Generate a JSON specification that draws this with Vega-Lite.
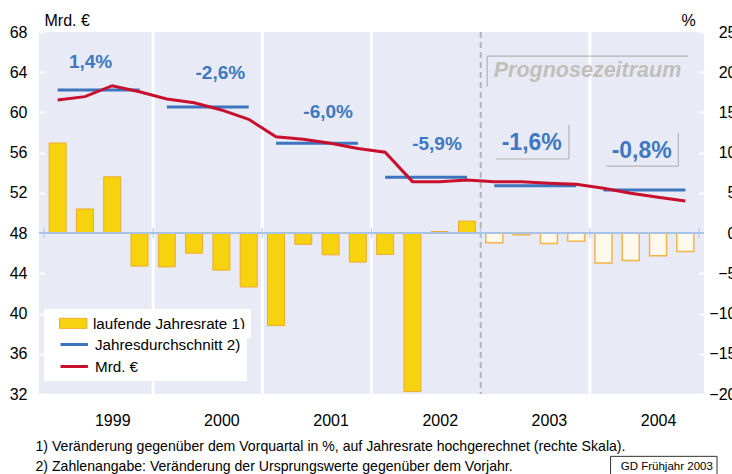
{
  "$schema": "https://vega.github.io/schema/vega-lite/v6.json",
  "width": 665,
  "height": 362,
  "autosize": {"type": "none"},
  "padding": {"left": 39, "top": 32, "right": 28, "bottom": 80},
  "background": "white",
  "config": {
    "font": "Liberation Sans",
    "view": {"fill": "#e8ebf5", "stroke": null},
    "axis": {"grid": false, "domain": false, "labelFont": "Liberation Sans", "titleFont": "Liberation Sans", "labelColor": "#000000", "titleColor": "#000000", "titleFontWeight": "normal"},
    "legend": {"labelFont": "Liberation Sans", "labelColor": "#000000", "labelFontSize": 15.2}
  },
  "datasets": {
    "quarters": [
      {"t": 1999.125, "rate": 11.2, "mrd": 61.24, "prog": false},
      {"t": 1999.375, "rate": 3.0, "mrd": 61.57, "prog": false},
      {"t": 1999.625, "rate": 7.0, "mrd": 62.66, "prog": false},
      {"t": 1999.875, "rate": -4.1, "mrd": 62.05, "prog": false},
      {"t": 2000.125, "rate": -4.2, "mrd": 61.34, "prog": false},
      {"t": 2000.375, "rate": -2.5, "mrd": 60.97, "prog": false},
      {"t": 2000.625, "rate": -4.6, "mrd": 60.25, "prog": false},
      {"t": 2000.875, "rate": -6.7, "mrd": 59.32, "prog": false},
      {"t": 2001.125, "rate": -11.5, "mrd": 57.58, "prog": false},
      {"t": 2001.375, "rate": -1.4, "mrd": 57.33, "prog": false},
      {"t": 2001.625, "rate": -2.7, "mrd": 56.94, "prog": false},
      {"t": 2001.875, "rate": -3.6, "mrd": 56.42, "prog": false},
      {"t": 2002.125, "rate": -2.65, "mrd": 56.04, "prog": false},
      {"t": 2002.375, "rate": -19.7, "mrd": 53.12, "prog": false},
      {"t": 2002.625, "rate": 0.2, "mrd": 53.12, "prog": false},
      {"t": 2002.875, "rate": 1.5, "mrd": 53.28, "prog": false},
      {"t": 2003.125, "rate": -1.2, "mrd": 53.12, "prog": true},
      {"t": 2003.375, "rate": -0.2, "mrd": 53.1, "prog": true},
      {"t": 2003.625, "rate": -1.3, "mrd": 52.96, "prog": true},
      {"t": 2003.875, "rate": -1.0, "mrd": 52.86, "prog": true},
      {"t": 2004.125, "rate": -3.7, "mrd": 52.46, "prog": true},
      {"t": 2004.375, "rate": -3.4, "mrd": 51.96, "prog": true},
      {"t": 2004.625, "rate": -2.8, "mrd": 51.57, "prog": true},
      {"t": 2004.875, "rate": -2.3, "mrd": 51.2, "prog": true}
    ],
    "years": [
      {"year": 1999, "avg": 62.23, "first": 1999.125, "last": 1999.875},
      {"year": 2000, "avg": 60.54, "first": 2000.125, "last": 2000.875},
      {"year": 2001, "avg": 56.93, "first": 2001.125, "last": 2001.875},
      {"year": 2002, "avg": 53.56, "first": 2002.125, "last": 2002.875},
      {"year": 2003, "avg": 52.72, "first": 2003.125, "last": 2003.875},
      {"year": 2004, "avg": 52.29, "first": 2004.125, "last": 2004.875}
    ],
    "bounds": [
      {"b": 1999}, {"b": 2000}, {"b": 2001}, {"b": 2002}, {"b": 2003}, {"b": 2004}, {"b": 2005}
    ],
    "zero": [{"rate": 0}],
    "labels": [
      {"text": "1,4%", "at": 1999.427, "level": 64.39},
      {"text": "-2,6%", "at": 2000.615, "level": 63.33},
      {"text": "-6,0%", "at": 2001.603, "level": 59.42},
      {"text": "-5,9%", "at": 2002.6, "level": 56.27},
      {"text": "-1,6%", "at": 2003.468, "level": 56.27},
      {"text": "-0,8%", "at": 2004.475, "level": 55.5}
    ],
    "notes": [
      {"note": "Prognosezeitraum", "at": 2003.979, "level": 63.5}
    ],
    "stamp": [
      {"note": "GD Frühjahr 2003", "at": 2004.705, "level": 24.4, "left": 2004.19, "right": 2005.165, "top": 25.8, "bottom": 23.0}
    ],
    "frames": [
      {"a": 2003.809, "a2": 2003.809, "v": 58.75, "v2": 55.37},
      {"a": 2003.141, "a2": 2003.809, "v": 55.37, "v2": 55.37},
      {"a": 2004.811, "a2": 2004.811, "v": 57.99, "v2": 54.67},
      {"a": 2004.152, "a2": 2004.811, "v": 54.67, "v2": 54.67},
      {"a": 2003.06, "a2": 2004.9, "v": 65.61, "v2": 65.61},
      {"a": 2003.06, "a2": 2003.06, "v": 65.61, "v2": 62.56}
    ]
  },
  "layer": [
    {
      "layer": [
        {
          "data": {"name": "bounds"},
          "transform": [{"filter": "datum.b > 1999 && datum.b < 2005 && datum.b != 2003"}],
          "mark": {"type": "rule", "color": "white", "strokeWidth": 3},
          "encoding": {
            "x": {"field": "b", "type": "quantitative", "scale": {"domain": [1999, 2005], "nice": false, "zero": false},
              "axis": {"orient": "bottom", "values": [1999.625, 2000.625, 2001.625, 2002.625, 2003.625, 2004.625], "labelExpr": "'' + floor(datum.value)", "ticks": false, "labelFontSize": 16, "labelPadding": 18,
                "title": ["1) Veränderung gegenüber dem Vorquartal in %, auf Jahresrate hochgerechnet (rechte Skala).", "2) Zahlenangabe: Veränderung der Ursprungswerte gegenüber dem Vorjahr."],
                "titleFontSize": 14.1, "titleAlign": "left", "titleAnchor": "start", "titleBaseline": "alphabetic", "titleX": -4, "titleY": 56, "titleLineHeight": 20}}
          }
        },
        {
          "data": {"name": "bounds"},
          "transform": [{"filter": "datum.b == 2003"}],
          "mark": {"type": "rule", "color": "#b5b5b5", "strokeWidth": 2, "strokeDash": [6, 4]},
          "encoding": {"x": {"field": "b", "type": "quantitative"}}
        },
        {
          "data": {"name": "quarters"},
          "transform": [{"filter": "!datum.prog"}],
          "mark": {"type": "bar", "width": 17, "stroke": "#efaa2e", "strokeWidth": 1},
          "encoding": {
            "x": {"field": "t", "type": "quantitative"},
            "y": {"field": "rate", "type": "quantitative", "scale": {"domain": [-20, 25], "nice": false},
              "axis": {"orient": "right", "values": [-20, -15, -10, -5, 0, 5, 10, 15, 20, 25], "title": "%", "titleAngle": 0, "titleAlign": "center", "titleBaseline": "alphabetic", "titleX": -16, "titleY": -7, "titleFontSize": 16, "labelFontSize": 16, "labelAlign": "right", "labelPadding": 37, "tickSize": -5, "tickColor": "white", "tickWidth": 2}},
            "fill": {"datum": "laufende Jahresrate 1)",
              "scale": {"domain": ["laufende Jahresrate 1)"], "range": ["#f6d30e"]},
              "legend": {
                "orient": "none", "legendX": 5, "legendY": 277, "title": null,
                "fillColor": "white", "padding": 6,
                "symbolType": "M0.125,-0.65H3.55V0.65H0.125Z", "symbolSize": 256,
                "symbolStrokeColor": "#efaa2e", "symbolStrokeWidth": 1,
                "labelOffset": 26
              }
            }
          }
        },
        {
          "data": {"name": "quarters"},
          "transform": [{"filter": "datum.prog"}],
          "mark": {"type": "bar", "width": 17, "fill": "#fdf9ec", "stroke": "#f4b548", "strokeWidth": 1.5},
          "encoding": {
            "x": {"field": "t", "type": "quantitative"},
            "y": {"field": "rate", "type": "quantitative"}
          }
        },
        {
          "data": {"name": "zero"},
          "mark": {"type": "rule", "color": "#a9c3e6", "strokeWidth": 2},
          "encoding": {"y": {"field": "rate", "type": "quantitative"}}
        },
        {
          "data": {"name": "bounds"},
          "mark": {"type": "tick", "orient": "vertical", "color": "#a9c3e6", "size": 10, "thickness": 1.5},
          "encoding": {
            "x": {"field": "b", "type": "quantitative"},
            "y": {"datum": 0, "type": "quantitative"}
          }
        }
      ]
    },
    {
      "layer": [
        {
          "data": {"name": "years"},
          "mark": {"type": "rule", "strokeWidth": 3},
          "encoding": {
            "x": {"field": "first", "type": "quantitative"},
            "x2": {"field": "last"},
            "y": {"field": "avg", "type": "quantitative", "scale": {"domain": [32, 68], "nice": false, "zero": false},
              "axis": {"orient": "left", "values": [32, 36, 40, 44, 48, 52, 56, 60, 64, 68], "title": "Mrd. €", "titleAngle": 0, "titleAlign": "left", "titleBaseline": "alphabetic", "titleX": 5, "titleY": -7, "titleFontSize": 16, "labelFontSize": 16, "labelPadding": 17, "tickSize": -5, "tickColor": "white", "tickWidth": 2}},
            "stroke": {"datum": "Jahresdurchschnitt 2)",
              "scale": {"domain": ["Jahresdurchschnitt 2)", "Mrd. €"], "range": ["#3c74bf", "#c8102e"]},
              "legend": {
                "orient": "none", "legendX": 5, "legendY": 297, "title": null,
                "fillColor": "white", "padding": 6, "rowPadding": 4,
                "symbolType": "M0.125,0H3.55", "symbolSize": 256, "symbolStrokeWidth": 3,
                "labelOffset": 26,
                "labelExpr": "datum.label + '   '"
              }
            }
          }
        },
        {
          "data": {"name": "quarters"},
          "mark": {"type": "line", "strokeWidth": 3},
          "encoding": {
            "x": {"field": "t", "type": "quantitative"},
            "y": {"field": "mrd", "type": "quantitative"},
            "stroke": {"datum": "Mrd. €"}
          }
        },
        {
          "data": {"name": "frames"},
          "mark": {"type": "rule", "color": "#b4b4b4", "strokeWidth": 1.2},
          "encoding": {
            "x": {"field": "a", "type": "quantitative"},
            "x2": {"field": "a2"},
            "y": {"field": "v", "type": "quantitative"},
            "y2": {"field": "v2"}
          }
        },
        {
          "data": {"name": "labels"},
          "mark": {"type": "text", "fontWeight": "bold", "color": "#3f78c0", "align": "center", "baseline": "alphabetic", "font": "Liberation Sans"},
          "encoding": {
            "x": {"field": "at", "type": "quantitative"},
            "y": {"field": "level", "type": "quantitative"},
            "text": {"field": "text"},
            "size": {"condition": {"test": "datum.at > 2003", "value": 23}, "value": 19}
          }
        },
        {
          "data": {"name": "notes"},
          "mark": {"type": "text", "fontWeight": "bold", "fontStyle": "italic", "color": "#c2bfbb", "fontSize": 21.5, "align": "center", "baseline": "alphabetic", "font": "Liberation Sans"},
          "encoding": {
            "x": {"field": "at", "type": "quantitative"},
            "y": {"field": "level", "type": "quantitative"},
            "text": {"field": "note"}
          }
        },
        {
          "data": {"name": "stamp"},
          "mark": {"type": "rect", "fill": "white", "stroke": "#333333", "strokeWidth": 1, "clip": false},
          "encoding": {
            "x": {"field": "left", "type": "quantitative"},
            "x2": {"field": "right"},
            "y": {"field": "top", "type": "quantitative"},
            "y2": {"field": "bottom"}
          }
        },
        {
          "data": {"name": "stamp"},
          "mark": {"type": "text", "fontSize": 11.5, "align": "center", "baseline": "alphabetic", "font": "Liberation Sans", "color": "#000000", "clip": false},
          "encoding": {
            "x": {"field": "at", "type": "quantitative"},
            "y": {"field": "level", "type": "quantitative"},
            "text": {"field": "note"}
          }
        }
      ]
    }
  ],
  "resolve": {"scale": {"y": "independent"}}
}
